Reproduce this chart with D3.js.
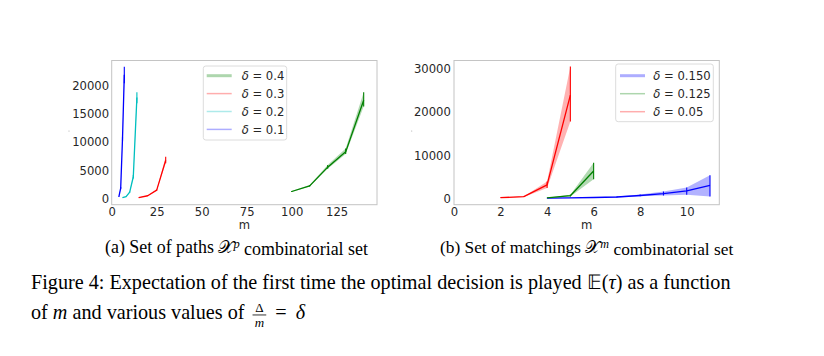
<!DOCTYPE html>
<html><head><meta charset="utf-8">
<script src="https://cdn.jsdelivr.net/npm/d3@7"></script>
<style>
body{margin:0;background:#fff;}
svg{display:block;}
</style></head><body>
<svg id="chart" width="824" height="356"></svg>
<script>
// ---------------- DATA ----------------
// (a) paths
const pathsXTicks = [0, 25, 50, 75, 100, 125];
const pathsYTicks = [0, 5000, 10000, 15000, 20000];
const pathsDeltas = ["0.4", "0.3", "0.2", "0.1"];

const pathsD04_m    = [100, 110, 120, 130, 140];
const pathsD04_mean = [1200, 2200, 5500, 8200, 17300];
const pathsD04_lo   = [1100, 2100, 5200, 7800, 16200];
const pathsD04_hi   = [1300, 2350, 5900, 8800, 18700];

const pathsD03_m    = [15, 20, 25, 30];
const pathsD03_mean = [100, 450, 1450, 6700];
const pathsD03_lo   = [80, 400, 1350, 6200];
const pathsD03_hi   = [120, 500, 1550, 7350];

const pathsD02_m    = [6, 8, 10, 12, 14];
const pathsD02_mean = [100, 300, 1100, 3800, 17800];
const pathsD02_lo   = [80, 250, 1000, 3500, 16800];
const pathsD02_hi   = [120, 350, 1200, 4100, 18700];

const pathsD01_m    = [4, 5, 6, 7];
const pathsD01_mean = [300, 1800, 10500, 21800];
const pathsD01_lo   = [250, 1600, 10100, 20300];
const pathsD01_hi   = [350, 2000, 10900, 23200];

// (b) matchings
const matchXTicks = [0, 2, 4, 6, 8, 10];
const matchYTicks = [0, 10000, 20000, 30000];
const matchDeltas = ["0.150", "0.125", "0.05"];

const matchD150_m    = [4, 5, 6, 7, 8, 9, 10, 11];
const matchD150_mean = [50, 100, 180, 300, 650, 1100, 1700, 3000];
const matchD150_lo   = [30, 60, 120, 200, 450, 650, 800, 400];
const matchD150_hi   = [70, 150, 250, 420, 900, 1550, 2500, 5300];

const matchD125_m    = [4, 5, 6];
const matchD125_mean = [100, 600, 6300];
const matchD125_lo   = [80, 400, 4400];
const matchD125_hi   = [120, 800, 8200];

const matchD005_m    = [2, 3, 4, 5];
const matchD005_mean = [150, 380, 3100, 23800];
const matchD005_lo   = [100, 320, 2400, 17700];
const matchD005_hi   = [200, 440, 3900, 30400];

// ---------------- DRAW ----------------
const svg = d3.select("#chart");
svg.append("rect").attr("width", 824).attr("height", 356).attr("fill", "#fff");

const GREEN = "#008000", RED = "#ff0000", CYAN = "#00bfbf", BLUE = "#0000ff";
const TICKFONT = "DejaVu Sans, Verdana, sans-serif";
const SERIF = "Liberation Serif, 'Times New Roman', Times, serif";

function makeSeries(m, mean, lo, hi, color) {
  return { pts: m.map((v, i) => ({ m: v, mean: mean[i], lo: lo[i], hi: hi[i] })), color };
}

function panel(opt) {
  const x = d3.scaleLinear().domain(opt.xDomain).range([opt.left, opt.right]);
  const y = d3.scaleLinear().domain(opt.yDomain).range([opt.bottom, opt.top]);
  const g = svg.append("g");

  opt.series.forEach(s => {
    g.append("path").datum(s.pts)
      .attr("d", d3.area().x(d => x(d.m)).y0(d => y(d.lo)).y1(d => y(d.hi)))
      .attr("fill", s.color).attr("fill-opacity", 0.3).attr("stroke", "none");
    g.selectAll(null).data(s.pts).enter().append("line")
      .attr("x1", d => x(d.m)).attr("x2", d => x(d.m))
      .attr("y1", d => y(d.lo)).attr("y2", d => y(d.hi))
      .attr("stroke", s.color).attr("stroke-width", 1.1);
    g.append("path").datum(s.pts)
      .attr("d", d3.line().x(d => x(d.m)).y(d => y(d.mean)))
      .attr("fill", "none").attr("stroke", s.color).attr("stroke-width", 1.3)
      .attr("stroke-linejoin", "round");
  });

  // frame
  g.append("rect").attr("x", opt.left).attr("y", opt.top)
    .attr("width", opt.right - opt.left).attr("height", opt.bottom - opt.top)
    .attr("fill", "none").attr("stroke", "#c4c4c4").attr("stroke-width", 1);

  // axes
  const ax = g.append("g").attr("transform", `translate(0,${opt.bottom})`)
    .call(d3.axisBottom(x).tickValues(opt.xTicks).tickSize(0).tickPadding(2.6).tickFormat(d3.format("d")));
  ax.select(".domain").remove();
  ax.selectAll("text").attr("font-family", TICKFONT).attr("font-size", 11.6).attr("fill", "#262626");

  const ay = g.append("g").attr("transform", `translate(${opt.left},0)`)
    .call(d3.axisLeft(y).tickValues(opt.yTicks).tickSize(0).tickPadding(opt.yPad).tickFormat(d3.format("d")));
  ay.select(".domain").remove();
  ay.selectAll("text").attr("font-family", TICKFONT).attr("font-size", 11.6).attr("fill", "#262626").attr("dy", "0.36em");

  // x label
  g.append("text").attr("x", (opt.left + opt.right) / 2).attr("y", 229)
    .attr("text-anchor", "middle").attr("font-family", TICKFONT).attr("font-size", 11.6)
    .attr("fill", "#262626").text("m");

  // tiny empty y-label mark
  g.append("circle").attr("cx", opt.yLabelX).attr("cy", 131).attr("r", 0.6).attr("fill", "#aaa");

  // legend
  const L = opt.legend;
  const lg = g.append("g");
  lg.append("rect").attr("x", L.x).attr("y", L.y).attr("width", L.w).attr("height", L.h)
    .attr("rx", 2.5).attr("fill", "#fff").attr("fill-opacity", 0.85)
    .attr("stroke", "#dcdcdc").attr("stroke-width", 1);
  L.items.forEach((it, i) => {
    const ry = L.row0 + i * L.rowStep;
    lg.append("line").attr("x1", L.hx).attr("x2", L.hx + 25).attr("y1", ry).attr("y2", ry)
      .attr("stroke", it.color).attr("stroke-opacity", 0.32).attr("stroke-width", i === 0 ? 3 : 1.5);
    const t = lg.append("text").attr("x", L.tx).attr("y", ry + 4.2)
      .attr("font-family", TICKFONT).attr("font-size", 11.6).attr("fill", "#262626");
    t.append("tspan").attr("font-style", "italic").text("δ");
    t.append("tspan").text(" = " + it.label);
  });
}

panel({
  left: 111.7, right: 377, top: 60.5, bottom: 204.7,
  xDomain: [0, 147.4], yDomain: [-1130, 24325],
  xTicks: pathsXTicks, yTicks: pathsYTicks, yPad: 2.6, yLabelX: 69,
  series: [
    makeSeries(pathsD04_m, pathsD04_mean, pathsD04_lo, pathsD04_hi, GREEN),
    makeSeries(pathsD03_m, pathsD03_mean, pathsD03_lo, pathsD03_hi, RED),
    makeSeries(pathsD02_m, pathsD02_mean, pathsD02_lo, pathsD02_hi, CYAN),
    makeSeries(pathsD01_m, pathsD01_mean, pathsD01_lo, pathsD01_hi, BLUE)
  ],
  legend: {
    x: 203.3, y: 66, w: 83.4, h: 74, hx: 206.7, tx: 241.7, row0: 75.7, rowStep: 17.9,
    items: [GREEN, RED, CYAN, BLUE].map((c, i) => ({ color: c, label: pathsDeltas[i] }))
  }
});

panel({
  left: 454, right: 719.3, top: 60.5, bottom: 204.7,
  xDomain: [0, 11.4], yDomain: [-1477, 31800],
  xTicks: matchXTicks, yTicks: matchYTicks, yPad: 3.2, yLabelX: 411.7,
  series: [
    makeSeries(matchD150_m, matchD150_mean, matchD150_lo, matchD150_hi, BLUE),
    makeSeries(matchD125_m, matchD125_mean, matchD125_lo, matchD125_hi, GREEN),
    makeSeries(matchD005_m, matchD005_mean, matchD005_lo, matchD005_hi, RED)
  ],
  legend: {
    x: 615.7, y: 64, w: 97.6, h: 57.7, hx: 620, tx: 653.3, row0: 75.7, rowStep: 18,
    items: [BLUE, GREEN, RED].map((c, i) => ({ color: c, label: matchDeltas[i] }))
  }
});

// ---------------- CAPTIONS ----------------
function fit(textSel, base, target) {
  const w = textSel.node().getComputedTextLength();
  const fs = base * target / w;
  textSel.attr("font-size", fs);
  return fs;
}

function subCaption(xPos, label, word, sup, target) {
  const t = svg.append("text").attr("x", xPos).attr("y", 253)
    .attr("font-family", SERIF).attr("font-size", 18).attr("fill", "#000");
  t.append("tspan").text(label + " Set of " + word + " ");
  t.append("tspan").text("𝒳");
  t.append("tspan").attr("font-style", "italic").attr("font-size", "70%").attr("dy", "-0.42em").text(sup);
  t.append("tspan").attr("dy", "0.42em").text(" combinatorial set");
  fit(t, 18, target);
}
subCaption(105, "(a)", "paths", "p", 263);
subCaption(440, "(b)", "matchings", "m", 293);

const line1 = svg.append("text").attr("x", 31).attr("y", 289)
  .attr("font-family", SERIF).attr("font-size", 20).attr("fill", "#000");
line1.append("tspan").text("Figure 4: Expectation of the first time the optimal decision is played ");
line1.append("tspan").text("𝔼");
line1.append("tspan").text("(");
line1.append("tspan").attr("font-style", "italic").text("τ");
line1.append("tspan").text(") as a function");
const capFs = fit(line1, 20, 700);

// line 2 with an inline fraction Δ/m
const l2y = 319;
const p1 = svg.append("text").attr("x", 31).attr("y", l2y)
  .attr("font-family", SERIF).attr("font-size", capFs).attr("fill", "#000");
p1.append("tspan").text("of ");
p1.append("tspan").attr("font-style", "italic").text("m");
p1.append("tspan").text(" and various values of");
const fracX = 31 + p1.node().getComputedTextLength() + capFs * 0.4;
const fracW = capFs * 0.68;
const barY = l2y - capFs * 0.2;
const fracFs = 13;
svg.append("line").attr("x1", fracX).attr("x2", fracX + fracW).attr("y1", barY).attr("y2", barY)
  .attr("stroke", "#000").attr("stroke-width", 0.8);
svg.append("text").attr("x", fracX + fracW / 2).attr("y", barY - 3.3).attr("text-anchor", "middle")
  .attr("font-family", SERIF).attr("font-size", fracFs).text("Δ");
svg.append("text").attr("x", fracX + fracW / 2).attr("y", barY + 12).attr("text-anchor", "middle")
  .attr("font-family", SERIF).attr("font-style", "italic").attr("font-size", fracFs).text("m");
const eqX = fracX + fracW + capFs * 0.45;
const eq = svg.append("text").attr("x", eqX).attr("y", l2y)
  .attr("font-family", SERIF).attr("font-size", capFs).attr("fill", "#000").text("=");
const deltaX = eqX + eq.node().getComputedTextLength() + capFs * 0.45;
svg.append("text").attr("x", deltaX).attr("y", l2y)
  .attr("font-family", SERIF).attr("font-size", capFs).attr("font-style", "italic").attr("fill", "#000").text("δ");
</script>
</body></html>
